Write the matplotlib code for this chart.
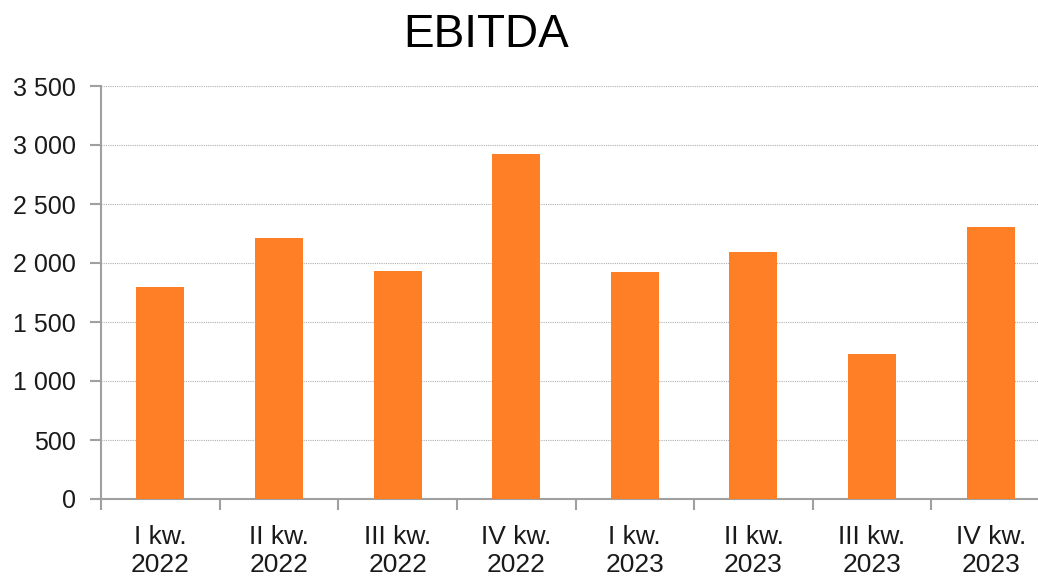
import matplotlib.pyplot as plt
import numpy as np
from matplotlib.ticker import FuncFormatter, MultipleLocator

plt.rcParams['font.family'] = ['Liberation Sans', 'DejaVu Sans']

# EBITDA by quarter
quarters = ['I kw.\n2022', 'II kw.\n2022', 'III kw.\n2022', 'IV kw.\n2022',
            'I kw.\n2023', 'II kw.\n2023', 'III kw.\n2023', 'IV kw.\n2023']
ebitda = [1800, 2212, 1932, 2924, 1924, 2093, 1229, 2305]

fig = plt.figure(figsize=(10.38, 5.77), dpi=100)
# axes runs off the right edge like in the original
ax = fig.add_axes([101 / 1038, 78 / 577, 949 / 1038, 413 / 577])

x = np.arange(len(quarters))
ax.bar(x, ebitda, width=0.405, color='#FF7F27', zorder=3)

ax.set_xlim(-0.5, len(quarters) - 0.5)
ax.set_ylim(0, 3500)
ax.yaxis.set_major_locator(MultipleLocator(500))
ax.yaxis.set_major_formatter(FuncFormatter(lambda v, p: f'{int(v):,}'.replace(',', ' ')))
ax.grid(axis='y', linestyle=(0, (1, 1)), color='#b0b0b0', linewidth=0.8, zorder=0)

ax.set_xticks(x)
ax.set_xticklabels(quarters, fontsize=19, color='#1a1a1a', linespacing=1.2)
ax.set_xticks(np.arange(len(quarters) + 1) - 0.5, minor=True)
ax.tick_params(axis='x', which='major', length=0, pad=19)
ax.tick_params(axis='x', which='minor', length=8, color='#a0a0a0', width=1.5)
ax.tick_params(axis='y', length=8, color='#a0a0a0', width=1.5, labelsize=18,
               labelcolor='#1a1a1a', pad=10)

for s in ['top', 'right']:
    ax.spines[s].set_visible(False)
for s in ['left', 'bottom']:
    ax.spines[s].set_color('#a0a0a0')
    ax.spines[s].set_linewidth(1.5)

fig.text(486 / 1038, 1 - 35 / 577, 'EBITDA', fontsize=33, ha='center', va='center')

fig.savefig('out.png', dpi=100)
